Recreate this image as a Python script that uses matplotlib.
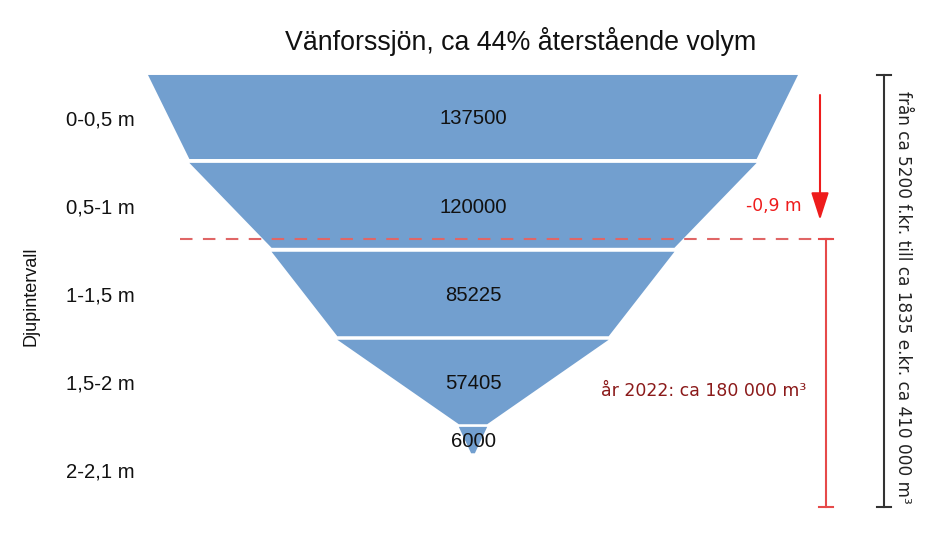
import numpy as np
import matplotlib
matplotlib.use("Agg")
import matplotlib.pyplot as plt

# data
categories = ["0-0,5 m", "0,5-1 m", "1-1,5 m", "1,5-2 m", "2-2,1 m"]
volumes = [137500, 120000, 85225, 57405, 6000]
tip = 800  # width at bottom of funnel

W, H = 950, 539
fig = plt.figure(figsize=(W / 100, H / 100), dpi=100)
ax = fig.add_axes([0, 0, 1, 1])
ax.axis("off")

# pixel mapping: centre x=473, 650 px for the largest volume, rows 88 px apart
s = 650 / max(volumes)
cx = 473
ax.set_xlim(-cx / s, (W - cx) / s)
y0, dy = 118, 88
ax.set_ylim((H - y0) / dy, -y0 / dy)

blue = "#729fcf"
widths = volumes + [tip]
tops = [-0.489, 0.51, 1.52, 2.52, 3.51]
bots = [0.466, 1.475, 2.48, 3.48, 3.81]
for i, v in enumerate(volumes):
    a, b = widths[i] / 2, widths[i + 1] / 2
    ax.fill([-a, a, b, -b], [tops[i], tops[i], bots[i], bots[i]],
            color=blue, lw=0)
    ax.text(0, (tops[i] + bots[i]) / 2 + 0.02, str(v), ha="center",
            va="center", fontsize=14.6, family="Liberation Sans",
            color="#111111")

for i, c in enumerate(categories):
    ax.text(-cx / s + 66 / s, i + 0.02, c, ha="left", va="center",
            fontsize=14.6, family="Liberation Sans", color="#111111")

def px(x, y):
    return x / W, 1 - y / H

ft = fig.transFigure
fig.text(*px(521, 41), "Vänforssjön, ca 44% återstående volym", ha="center",
         va="center", fontsize=19.3, family="Liberation Sans", color="#111111")
fig.text(*px(31, 296), "Djupintervall", rotation=90, ha="center", va="center",
         fontsize=13, family="Liberation Sans", color="#111111")

# red dashed level line
ax.plot([px(180, 0)[0], px(832, 0)[0]], [px(0, 239)[1]] * 2, transform=ft,
        color="#e06666", lw=1.5, ls=(0, (6, 5)))

# arrow -0,9 m
ax.annotate("", xy=px(820, 220), xytext=px(820, 95), xycoords=ft,
            textcoords=ft,
            arrowprops=dict(arrowstyle="-|>,head_length=1.4,head_width=0.45",
                            color="#ee1c1c", lw=1.5, mutation_scale=12,
                            shrinkA=0, shrinkB=0))
fig.text(*px(774, 206), "-0,9 m", ha="center", va="center", fontsize=12.3,
         family="DejaVu Sans", color="#ee1c1c")

# red bracket
ax.plot([px(826, 0)[0]] * 2, [px(0, 239)[1], px(0, 507)[1]], transform=ft,
        color="#e64a4a", lw=1.5)
for yy in (239, 507):
    ax.plot([px(819, 0)[0], px(833, 0)[0]], [px(0, yy)[1]] * 2, transform=ft,
            color="#e64a4a", lw=1.5)
fig.text(*px(704, 391), "år 2022: ca 180 000 m³", ha="center", va="center",
         fontsize=12.5, family="DejaVu Sans", color="#8b1a1a")

# black bracket
ax.plot([px(884, 0)[0]] * 2, [px(0, 75)[1], px(0, 507)[1]], transform=ft,
        color="#333333", lw=1.5)
for yy in (75, 507):
    ax.plot([px(877, 0)[0], px(891, 0)[0]], [px(0, yy)[1]] * 2, transform=ft,
            color="#333333", lw=1.5)
fig.text(*px(903, 297), "från ca 5200 f.kr. till ca 1835 e.kr. ca 410 000 m³",
         rotation=-90, ha="center", va="center", fontsize=12.2,
         family="DejaVu Sans", color="#222222")

fig.savefig("out.png", dpi=100)
